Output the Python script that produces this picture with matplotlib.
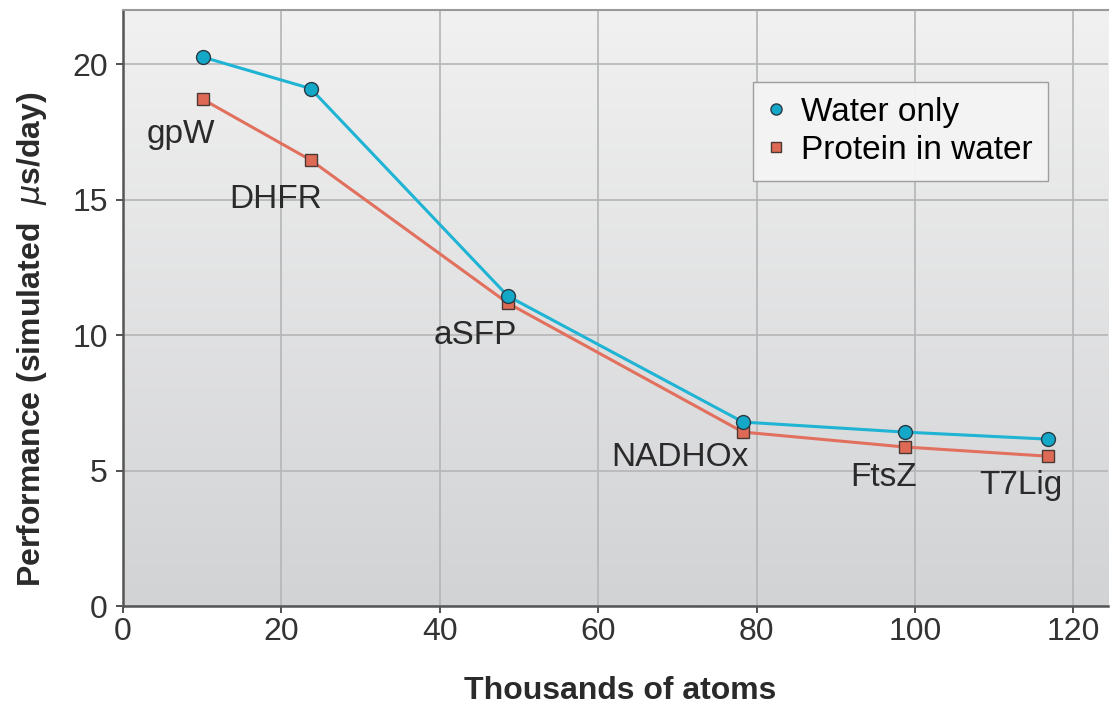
import numpy as np
import matplotlib
matplotlib.use("Agg")
import matplotlib.pyplot as plt

plt.rcParams['font.family'] = ['Liberation Sans', 'DejaVu Sans']

# Data (thousands of atoms vs simulated us/day)
atoms = [10.1, 23.7, 48.6, 78.3, 98.7, 116.8]
water_only = [20.26, 19.1, 11.44, 6.79, 6.42, 6.16]
protein_in_water = [18.7, 16.46, 11.18, 6.42, 5.87, 5.53]
systems = ["gpW", "DHFR", "aSFP", "NADHOx", "FtsZ", "T7Lig"]
label_x = [7.3, 19.3, 44.5, 70.3, 96.1, 113.4]
label_y = [17.4, 15.0, 10.0, 5.5, 4.75, 4.45]
xticks = [0, 20, 40, 60, 80, 100, 120]
yticks = [0, 5, 10, 15, 20]

fig = plt.figure(figsize=(11.1, 7.05), dpi=100)
ax = fig.add_axes([0.1108, 0.1404, 0.8875, 0.8454])

xmax, ymax = 124.4, 22.0
ax.set_xlim(0, xmax)
ax.set_ylim(0, ymax)

# vertical gradient background
grad = np.linspace(0, 1, 256).reshape(-1, 1)
cmap = matplotlib.colors.LinearSegmentedColormap.from_list("bg", ["#d2d3d5", "#f1f1f1"])
ax.imshow(grad, extent=[0, xmax, 0, ymax], origin="lower", aspect="auto",
          cmap=cmap, zorder=0)

ax.set_xticks(xticks)
ax.set_yticks(yticks)
ax.grid(True, color="#b4b5b7", linewidth=1.2, zorder=1)
ax.tick_params(labelsize=23, colors="#333333", length=5, width=1.2, direction="out")
ax.tick_params(axis="x", pad=3)
ax.tick_params(axis="y", pad=6)

for side in ["left", "bottom"]:
    ax.spines[side].set_color("#555555")
    ax.spines[side].set_linewidth(1.8)
ax.spines["top"].set_color("#9a9a9a")
ax.spines["top"].set_linewidth(1.5)
ax.spines["right"].set_visible(False)

ax.plot(atoms, water_only, color="#1fb3d4", linewidth=2.2, marker="o", markersize=10,
        markerfacecolor="#14a8c8", markeredgecolor="#2a3a44", markeredgewidth=1.0,
        label="Water only", zorder=4)
ax.plot(atoms, protein_in_water, color="#e2705e", linewidth=2.2, marker="s", markersize=9,
        markerfacecolor="#de6a55", markeredgecolor="#4a3a36", markeredgewidth=1.0,
        label="Protein in water", zorder=3)

for name, lx, ly in zip(systems, label_x, label_y):
    ax.text(lx, ly, name, fontsize=24, color="#2a2a2a", ha="center", va="center", zorder=5)

leg = ax.legend(loc="upper right", bbox_to_anchor=(0.939, 0.879), fontsize=24,
                frameon=True, fancybox=False, handlelength=0.5, handletextpad=0.5,
                borderpad=0.45, labelspacing=0.2, markerscale=0.8, borderaxespad=0)
leg.get_frame().set_facecolor("#f4f4f4")
leg.get_frame().set_edgecolor("#9a9a9a")
leg.get_frame().set_alpha(0.95)
for h in leg.legend_handles:
    h.set_linestyle("none")

ax.set_xlabel("Thousands of atoms", fontsize=23, fontweight="bold", color="#2a2a2a")
ax.xaxis.set_label_coords(0.505, -0.117)
ax.set_ylabel("Performance (simulated  $\\mu$s/day)", fontsize=23, fontweight="bold",
              color="#2a2a2a")
ax.yaxis.set_label_coords(-0.092, 0.448)
ax.yaxis.label.set_va("center")

plt.savefig("out.png", dpi=100)
plt.close()
